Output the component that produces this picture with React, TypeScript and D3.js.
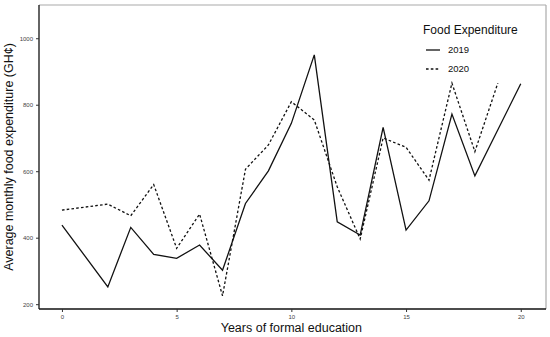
import React, { useEffect, useRef } from "react";
import * as d3 from "d3";

const years2019 = [0, 2, 3, 4, 5, 6, 7, 8, 9, 10, 11, 12, 13, 14, 15, 16, 17, 18, 20];
const values2019 = [438, 252, 431, 350, 338, 378, 302, 503, 601, 744, 950, 448, 408, 732, 423, 511, 772, 586, 863];
const years2020 = [0, 2, 3, 4, 5, 6, 7, 8, 9, 10, 11, 12, 13, 14, 15, 16, 17, 18, 19];
const values2020 = [483, 501, 466, 560, 368, 471, 225, 606, 679, 809, 754, 553, 396, 700, 672, 573, 865, 659, 865];
const xTicks = [0, 5, 10, 15, 20];
const yTicks = [200, 400, 600, 800, 1000];

const App = () => {
  const ref = useRef<SVGSVGElement | null>(null);

  useEffect(() => {
    const width = 550;
    const height = 337;
    const margin = { top: 5, right: 4, bottom: 28, left: 39 };
    const innerWidth = width - margin.left - margin.right;
    const innerHeight = height - margin.top - margin.bottom;

    const svg = d3.select(ref.current);
    svg.selectAll("*").remove();
    svg.attr("width", width).attr("height", height).style("font-family", "'Liberation Sans', Arial, sans-serif");

    const g = svg.append("g").attr("transform", `translate(${margin.left},${margin.top})`);

    const x = d3.scaleLinear().domain([-1, 21.1]).range([0, innerWidth]);
    const y = d3.scaleLinear().domain([185.5, 1100]).range([innerHeight, 0]);

    // panel frame
    g.append("line").attr("x1", 0).attr("x2", innerWidth).attr("y1", 0).attr("y2", 0)
      .attr("stroke", "#aaa").attr("stroke-width", 1.2);
    g.append("line").attr("x1", innerWidth).attr("x2", innerWidth).attr("y1", 0).attr("y2", innerHeight)
      .attr("stroke", "#aaa").attr("stroke-width", 1.2);

    const xAxis = g.append("g")
      .attr("transform", `translate(0,${innerHeight})`)
      .call(d3.axisBottom(x).tickValues(xTicks).tickSize(3).tickPadding(3).tickFormat(d3.format("d")));
    xAxis.select(".domain").attr("stroke", "#111").attr("stroke-width", 1.3).attr("d", `M0,0H${innerWidth}`);
    xAxis.selectAll(".tick line").attr("stroke", "#333");
    xAxis.selectAll("text").attr("fill", "#444").style("font-size", "6px");

    const yAxis = g.append("g")
      .call(d3.axisLeft(y).tickValues(yTicks).tickSize(3).tickPadding(3).tickFormat(d3.format("d")));
    yAxis.select(".domain").attr("stroke", "#111").attr("stroke-width", 1.3).attr("d", `M0,0V${innerHeight}`);
    yAxis.selectAll(".tick line").attr("stroke", "#333");
    yAxis.selectAll("text").attr("fill", "#444").style("font-size", "6px");

    const line = d3.line<[number, number]>().x(d => x(d[0])).y(d => y(d[1]));

    const d2019 = years2019.map((yr, i) => [yr, values2019[i]] as [number, number]);
    const d2020 = years2020.map((yr, i) => [yr, values2020[i]] as [number, number]);

    g.append("path").datum(d2020).attr("d", line).attr("fill", "none")
      .attr("stroke", "#111").attr("stroke-width", 1.3).attr("stroke-dasharray", "2.6,2.2");
    g.append("path").datum(d2019).attr("d", line).attr("fill", "none")
      .attr("stroke", "#111").attr("stroke-width", 1.3);

    // legend
    const legend = svg.append("g").attr("transform", "translate(423,0)");
    legend.append("text").attr("x", 0).attr("y", 34).text("Food Expenditure")
      .style("font-size", "12px").attr("fill", "#111");
    const items = [
      { label: "2019", dash: null as string | null, yy: 50 },
      { label: "2020", dash: "2.6,2.2", yy: 69 },
    ];
    items.forEach(it => {
      legend.append("line").attr("x1", 3).attr("x2", 17).attr("y1", it.yy).attr("y2", it.yy)
        .attr("stroke", "#111").attr("stroke-width", 1.3).attr("stroke-dasharray", it.dash);
      legend.append("text").attr("x", 25).attr("y", it.yy + 3.3).text(it.label)
        .style("font-size", "9.5px").attr("fill", "#111");
    });

    // axis titles
    svg.append("text").attr("x", margin.left + x(10)).attr("y", 332)
      .attr("text-anchor", "middle").style("font-size", "12.5px").attr("fill", "#111")
      .text("Years of formal education");
    svg.append("text").attr("transform", `translate(13,${margin.top + innerHeight / 2}) rotate(-90)`)
      .attr("text-anchor", "middle").style("font-size", "12.5px").attr("fill", "#111")
      .text("Average monthly food expenditure (GH¢)");
  }, []);

  return <svg ref={ref} style={{ position: "absolute", left: 0, top: 0 }} />;
};

export default App;
